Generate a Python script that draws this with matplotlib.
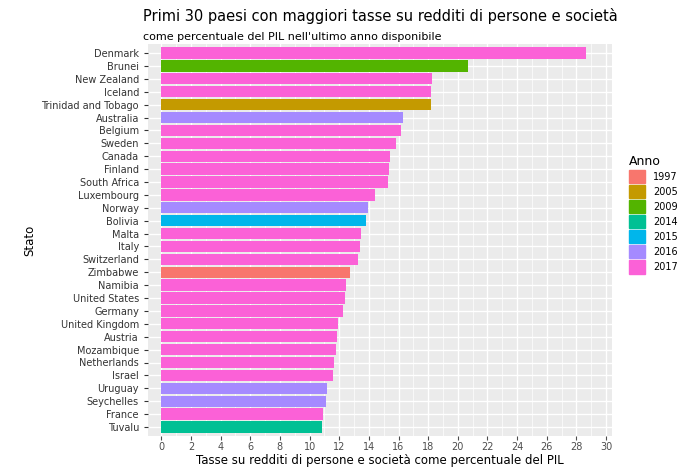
import matplotlib.pyplot as plt
from matplotlib.patches import Patch

paesi = ["Denmark", "Brunei", "New Zealand", "Iceland", "Trinidad and Tobago", "Australia",
         "Belgium", "Sweden", "Canada", "Finland", "South Africa", "Luxembourg", "Norway",
         "Bolivia", "Malta", "Italy", "Switzerland", "Zimbabwe", "Namibia", "United States",
         "Germany", "United Kingdom", "Austria", "Mozambique", "Netherlands", "Israel",
         "Uruguay", "Seychelles", "France", "Tuvalu"]
valori = [28.64, 20.69, 18.25, 18.18, 18.18, 16.33, 16.2, 15.86, 15.4, 15.34, 15.27, 14.41,
          13.96, 13.82, 13.44, 13.39, 13.24, 12.72, 12.45, 12.38, 12.24, 11.93, 11.86, 11.79,
          11.66, 11.59, 11.2, 11.14, 10.93, 10.82]
anni = [2017, 2009, 2017, 2017, 2005, 2016, 2017, 2017, 2017, 2017, 2017, 2017, 2016,
        2015, 2017, 2017, 2017, 1997, 2017, 2017, 2017, 2017, 2017, 2017, 2017, 2017,
        2016, 2016, 2017, 2014]
legenda_anni = [1997, 2005, 2009, 2014, 2015, 2016, 2017]
colori = ["#F8766D", "#C49A00", "#53B400", "#00C094", "#00B6EB", "#A58AFF", "#FB61D7"]
col = dict(zip(legenda_anni, colori))

fig = plt.figure(figsize=(6.98, 4.71), dpi=100)
ax = fig.add_axes([148/698, 35/471, 464/698, 392/471])
ax.set_facecolor("#EBEBEB")
y = list(range(len(paesi)))[::-1]
ax.barh(y, valori, height=0.88, color=[col[a] for a in anni], zorder=3)
ax.set_yticks(y)
ax.set_yticklabels(paesi, fontsize=7, color="#4D4D4D")
ax.set_xticks(range(0, 31, 2))
ax.set_xticks(range(1, 31, 2), minor=True)
ax.tick_params(axis="x", labelsize=7, colors="#4D4D4D", length=3, pad=1.5)
ax.tick_params(axis="y", length=3, colors="#333333")
ax.tick_params(axis="x", which="minor", length=0)
ax.set_xlim(-0.9, 30.4)
ax.set_ylim(-0.7, 29.7)
ax.grid(True, which="major", color="white", linewidth=1.0, zorder=0)
ax.grid(True, which="minor", axis="x", color="white", linewidth=0.5, zorder=0)
for s in ax.spines.values():
    s.set_visible(False)
ax.set_xlabel("Tasse su redditi di persone e società come percentuale del PIL", fontsize=8.5, labelpad=1)
ax.set_ylabel("Stato", fontsize=8.5)
fig.text(143/698, 0.955, "Primi 30 paesi con maggiori tasse su redditi di persone e società", fontsize=10.5)
fig.text(143/698, 0.915, "come percentuale del PIL nell'ultimo anno disponibile", fontsize=8)
handles = [Patch(color=c, label=str(a)) for a, c in zip(legenda_anni, colori)]
fig.legend(handles=handles, title="Anno", loc="center left", bbox_to_anchor=(620/698, 0.545),
           frameon=False, fontsize=7, title_fontsize=9, handlelength=1.7, handleheight=1.7,
           labelspacing=0.2, alignment="left")
fig.savefig("out.png", dpi=100)
